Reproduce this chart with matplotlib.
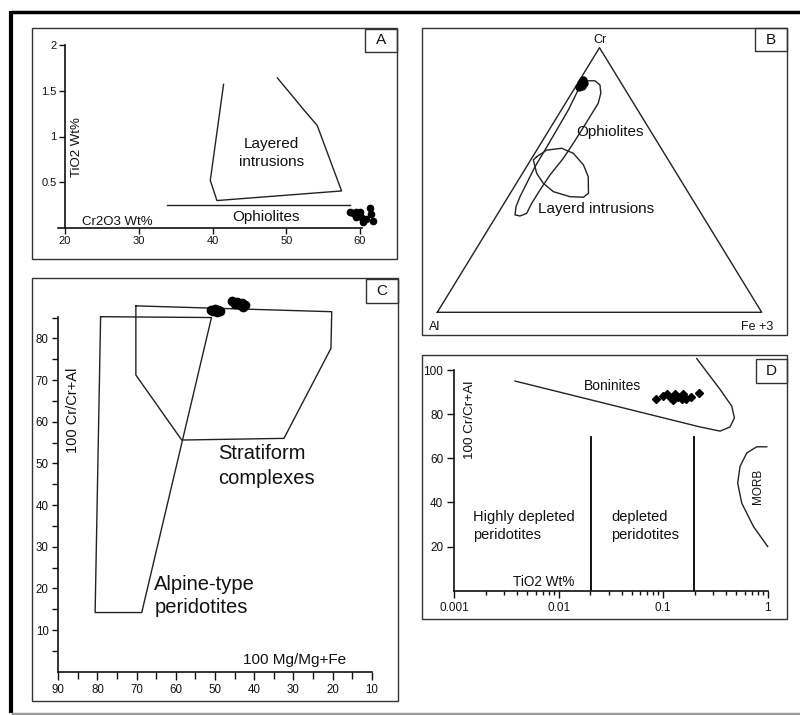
import matplotlib
matplotlib.use('Agg')
import matplotlib.pyplot as plt
from matplotlib.patches import Rectangle
from matplotlib.lines import Line2D
from matplotlib.ticker import FixedLocator, NullFormatter, FixedFormatter

plt.rcParams['font.family'] = ['Liberation Sans', 'DejaVu Sans']
plt.rcParams['text.color'] = '#111111'

# ---------------- data ----------------
# Panel A : Cr2O3 vs TiO2
a_layered_cr2o3 = [41.5, 39.7, 40.6, 57.5, 54.2, 52.5, 48.8]
a_layered_tio2 = [1.57, 0.52, 0.30, 0.405, 1.12, 1.28, 1.64]
a_ophiolite_cr2o3 = [33.8, 58.6]
a_ophiolite_tio2 = [0.248, 0.248]
a_sample_cr2o3 = [58.6, 59.1, 59.5, 59.8, 60.1, 60.0, 59.4, 60.4, 61.4, 61.5, 61.8, 60.8]
a_sample_tio2 = [0.17, 0.16, 0.18, 0.14, 0.12, 0.17, 0.12, 0.07, 0.22, 0.15, 0.08, 0.10]
a_xticks = [20, 30, 40, 50, 60]
a_yticks = [0.5, 1, 1.5, 2]

# Panel B : Cr - Al - Fe3+ ternary (percent)
b_ophiolite_cr = [85.9, 87.5, 87.5, 85.9, 82.8, 79.0, 73.9, 68.9, 63.9, 58.2, 51.9, 46.2,
                  41.2, 37.4, 36.4, 36.8, 39.9, 43.7, 48.75, 55.0, 61.3, 68.9, 76.5, 84.0, 85.9]
b_ophiolite_fe = [0.5, 1.76, 4.84, 7.2, 9.0, 10.1, 10.1, 10.06, 9.99, 9.74, 8.79, 8.55,
                  8.5, 8.85, 7.29, 5.57, 4.3, 3.64, 3.18, 2.6, 2.53, 2.35, 2.15, 1.4, 0.5]
b_layered_cr = [58.8, 61.3, 62.0, 60.1, 55.7, 51.25, 45.0, 43.5, 43.7, 45.6, 48.75, 52.5, 57.6, 58.8]
b_layered_fe = [1.24, 3.05, 7.36, 11.88, 17.2, 20.9, 24.1, 23.3, 19.06, 12.97, 8.3, 4.38, 0.81, 1.24]
b_sample_cr = [87.8, 86.5, 85.3, 86.8, 85.5]
b_sample_fe = [0.92, 0.93, 1.15, 1.83, 1.74]

# Panel C : 100 Mg/(Mg+Fe) vs 100 Cr/(Cr+Al)
c_alpine_mg = [79.2, 50.9, 68.7, 80.6, 79.2]
c_alpine_cr = [85.2, 85.0, 14.2, 14.2, 85.2]
c_strat_mg = [70.2, 20.2, 20.4, 32.4, 58.5, 70.2, 70.2]
c_strat_cr = [87.8, 86.4, 77.6, 56.0, 55.6, 71.2, 87.8]
c_sample_mg = [50.9, 50.0, 49.2, 48.6, 49.6, 50.4, 45.7, 44.5, 43.2, 42.3, 43.6, 42.8, 45.0]
c_sample_cr = [86.9, 87.0, 86.7, 86.5, 86.3, 86.5, 89.0, 88.8, 88.6, 88.0, 88.0, 87.6, 88.3]
c_xticks = [90, 80, 70, 60, 50, 40, 30, 20, 10]
c_yticks = [10, 20, 30, 40, 50, 60, 70, 80]

# Panel D : TiO2 vs 100 Cr/(Cr+Al)
d_boninite_tio2 = [0.00381, 0.225, 0.35, 0.436, 0.48, 0.453, 0.35, 0.209]
d_boninite_cr = [95.0, 74.2, 72.3, 74.2, 78.3, 83.6, 91.2, 105.2]
d_morb_tio2 = [0.979, 0.785, 0.631, 0.544, 0.516, 0.564, 0.73, 1.0]
d_morb_cr = [65.2, 65.2, 62.4, 56.4, 48.8, 39.7, 29.1, 20.0]
d_divider_tio2 = [0.0202, 0.197]
d_divider_top = 69.5
d_sample_tio2 = [0.0853, 0.100, 0.108, 0.118, 0.130, 0.140, 0.150, 0.165, 0.183, 0.222, 0.155, 0.125]
d_sample_cr = [87.0, 88.2, 88.9, 87.4, 88.9, 87.9, 86.7, 87.0, 87.9, 89.7, 88.9, 86.4]
d_xticks = [0.001, 0.01, 0.1, 1]
d_xticklabels = ['0.001', '0.01', '0.1', '1']
d_yticks = [20, 40, 60, 80, 100]

# ---------------- layout helpers ----------------
W, H = 800, 715
fig = plt.figure(figsize=(W / 100, H / 100), dpi=100)
fig.patch.set_facecolor('white')


def add_ax(x0, y0, x1, y1):
    return fig.add_axes([x0 / W, 1 - y1 / H, (x1 - x0) / W, (y1 - y0) / H])


def frame(x0, y0, x1, y1, lw=1.0, color='#333333'):
    fig.add_artist(Rectangle((x0 / W, 1 - y1 / H), (x1 - x0) / W, (y1 - y0) / H,
                             transform=fig.transFigure, fill=False, lw=lw, ec=color))


def letter_box(x0, y0, x1, y1, letter):
    frame(x0, y0, x1, y1)
    fig.text((x0 + x1) / 2 / W, 1 - (y0 + y1) / 2 / H, letter, ha='center', va='center',
             fontsize=11, color='#111111')


def fline(x0, y0, x1, y1, lw, color):
    fig.add_artist(Line2D([x0 / W, x1 / W], [1 - y0 / H, 1 - y1 / H],
                          transform=fig.transFigure, lw=lw, color=color, solid_capstyle='butt'))


def style_axes(ax, lw=1.2):
    for s in ['top', 'right']:
        ax.spines[s].set_visible(False)
    for s in ['left', 'bottom']:
        ax.spines[s].set_linewidth(lw)
        ax.spines[s].set_color('#111111')
    ax.patch.set_alpha(0)


# outer window border
fline(11, 12, 800, 12, 2.5, 'black')
fline(11, 11, 11, 713, 3, 'black')
fline(11, 713.5, 800, 713.5, 2.5, '#9a9a9a')

# panel frames
frame(32, 28, 397, 259)
frame(422, 28, 787, 335)
frame(32, 278, 398, 701)
frame(422, 355, 787, 619)
letter_box(365, 29, 397, 52, 'A')
letter_box(755, 28, 787, 51, 'B')
letter_box(366, 279, 398, 303, 'C')
letter_box(756, 359, 787, 383, 'D')

lc = '#222222'

# ---------------- Panel A ----------------
axA = add_ax(58, 45, 362, 228)
style_axes(axA)
axA.set_xlim(19.05, 60.27)
axA.set_ylim(0, 2)
axA.spines['left'].set_position(('data', 20))
axA.xaxis.set_major_locator(FixedLocator(a_xticks))
axA.yaxis.set_major_locator(FixedLocator(a_yticks))
axA.yaxis.set_major_formatter(FixedFormatter(['0.5', '1', '1.5', '2']))
axA.tick_params(direction='out', length=4, width=1, labelsize=8, pad=2, colors='#111111')
axA.plot(a_layered_cr2o3, a_layered_tio2, color=lc, lw=1.0, clip_on=False)
axA.plot(a_ophiolite_cr2o3, a_ophiolite_tio2, color=lc, lw=1.0, clip_on=False)
axA.plot(a_sample_cr2o3, a_sample_tio2, 'o', color='black', ms=4.5, clip_on=False)
axA.text(48.0, 0.92, 'Layered', ha='center', va='center', fontsize=11)
axA.text(48.0, 0.72, 'intrusions', ha='center', va='center', fontsize=11)
axA.text(47.2, 0.12, 'Ophiolites', ha='center', va='center', fontsize=11)
axA.text(22.3, 0.066, 'Cr2O3 Wt%', ha='left', va='center', fontsize=9.5)
axA.text(21.6, 0.885, 'TiO2 Wt%', ha='center', va='center', rotation=90, fontsize=9.5)

# ---------------- Panel B (ternary) ----------------
axB = add_ax(422, 28, 787, 335)
axB.set_axis_off()
axB.set_xlim(-0.0472, 1.078)
axB.set_ylim(-0.0858, 1.0745)


def tern(cr, fe):
    x = [f / 100 + c / 200 for c, f in zip(cr, fe)]
    y = [c / 100 for c in cr]
    return x, y


axB.plot([0, 1, 0.5, 0], [0, 0, 1, 0], color=lc, lw=1.0)
x, y = tern(b_ophiolite_cr, b_ophiolite_fe)
axB.plot(x, y, color=lc, lw=1.0)
x, y = tern(b_layered_cr, b_layered_fe)
axB.plot(x, y, color=lc, lw=1.0)
x, y = tern(b_sample_cr, b_sample_fe)
axB.plot(x, y, 'o', color='black', ms=5)
axB.text(0.5, 1.03, 'Cr', ha='center', va='center', fontsize=9)
axB.text(-0.007, -0.056, 'Al', ha='center', va='center', fontsize=9)
axB.text(0.985, -0.056, 'Fe +3', ha='center', va='center', fontsize=9)
axB.text(0.4296, 0.6826, 'Ophiolites', ha='left', va='center', fontsize=11)
axB.text(0.3095, 0.390, 'Layerd intrusions', ha='left', va='center', fontsize=11)

# ---------------- Panel C ----------------
axC = add_ax(58.3, 316.7, 371.7, 671.7)
style_axes(axC)
axC.set_xlim(90, 10)
axC.set_ylim(0, 85.2)
axC.xaxis.set_major_locator(FixedLocator(c_xticks))
axC.xaxis.set_minor_locator(FixedLocator([85, 75, 65, 55, 45, 35, 25, 15]))
axC.yaxis.set_major_locator(FixedLocator(c_yticks))
axC.yaxis.set_minor_locator(FixedLocator([5, 15, 25, 35, 45, 55, 65, 75, 85]))
axC.tick_params(which='both', direction='out', width=1, labelsize=8.3, pad=3, colors='#111111')
axC.tick_params(which='major', length=6)
axC.tick_params(which='minor', length=5)
axC.tick_params(axis='y', which='both', length=4)
axC.plot(c_alpine_mg, c_alpine_cr, color=lc, lw=1.0, clip_on=False)
axC.plot(c_strat_mg, c_strat_cr, color=lc, lw=1.0, clip_on=False)
axC.plot(c_sample_mg, c_sample_cr, 'o', color='black', ms=6, clip_on=False)
axC.text(49.1, 52.3, 'Stratiform', ha='left', va='center', fontsize=14.5)
axC.text(49.1, 46.3, 'complexes', ha='left', va='center', fontsize=14.5)
axC.text(65.5, 21.0, 'Alpine-type', ha='left', va='center', fontsize=14.5)
axC.text(65.5, 15.4, 'peridotites', ha='left', va='center', fontsize=14.5)
axC.text(42.8, 2.8, '100 Mg/Mg+Fe', ha='left', va='center', fontsize=11)
axC.text(86.2, 62.8, '100 Cr/Cr+Al', ha='center', va='center', rotation=90, fontsize=10.5)

# ---------------- Panel D ----------------
axD = add_ax(454.3, 370, 767.7, 590.7)
style_axes(axD)
axD.set_xscale('log')
axD.set_xlim(0.001, 1)
axD.set_ylim(0, 100)
axD.xaxis.set_major_locator(FixedLocator(d_xticks))
axD.xaxis.set_major_formatter(FixedFormatter(d_xticklabels))
minors = [m * 10.0 ** e for e in (-3, -2, -1) for m in range(2, 10)]
axD.xaxis.set_minor_locator(FixedLocator(minors))
axD.xaxis.set_minor_formatter(NullFormatter())
axD.yaxis.set_major_locator(FixedLocator(d_yticks))
axD.tick_params(which='both', direction='out', width=1, labelsize=8.5, pad=3, colors='#111111')
axD.tick_params(which='major', length=5)
axD.tick_params(which='minor', length=3)
axD.plot(d_boninite_tio2, d_boninite_cr, color=lc, lw=1.0, clip_on=False)
axD.plot(d_morb_tio2, d_morb_cr, color=lc, lw=1.0, clip_on=False)
for xv in d_divider_tio2:
    axD.plot([xv, xv], [0, d_divider_top], color='black', lw=1.3)
axD.plot(d_sample_tio2, d_sample_cr, 'D', color='black', ms=4.5)
axD.text(0.0326, 92.7, 'Boninites', ha='center', va='center', fontsize=10)
axD.text(0.00152, 33.6, 'Highly depleted', ha='left', va='center', fontsize=10.5)
axD.text(0.00152, 25.3, 'peridotites', ha='left', va='center', fontsize=10.5)
axD.text(0.0316, 33.6, 'depleted', ha='left', va='center', fontsize=10.5)
axD.text(0.0316, 25.3, 'peridotites', ha='left', va='center', fontsize=10.5)
axD.text(0.815, 47.3, 'MORB', ha='center', va='center', rotation=90, fontsize=8.5)
axD.text(0.00141, 77.6, '100 Cr/Cr+Al', ha='center', va='center', rotation=90, fontsize=9.7)
axD.text(0.00367, 3.8, 'TiO2 Wt%', ha='left', va='center', fontsize=9.8)

fig.savefig('out.png', dpi=100, facecolor='white')
